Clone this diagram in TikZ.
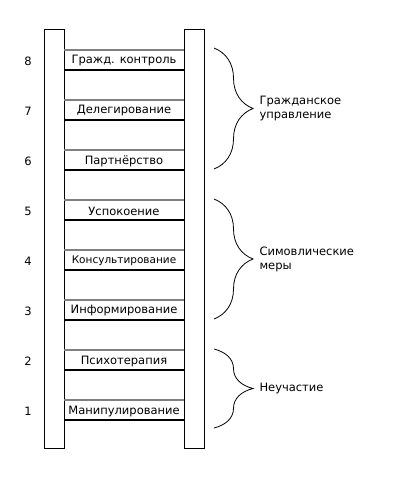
\documentclass[tikz,border=0pt]{standalone}
\usepackage{fontspec}
\setmainfont{DejaVu Sans}
\usetikzlibrary{decorations.pathreplacing}
\begin{document}
\begin{tikzpicture}[x=1pt, y=-1pt, font=\fontsize{11.5}{14}\selectfont,
  rail/.style={draw, line width=1pt},
  rungtop/.style={draw=gray, line width=1.3pt},
  rungbot/.style={draw=black, line width=1.3pt},
  grpbrace/.style={decorate, decoration={brace, amplitude=39pt}, line width=0.8pt}]
  \useasboundingbox (0,0) rectangle (392,481);
  % Ladder rails
  \draw[rail] (44,30) rectangle (64,448);
  \draw[rail] (184,30) rectangle (204,448);
  % Rungs with their names and numbers
  \foreach \k/\txt in {1/Манипулирование, 2/Психотерапия, 3/Информирование,
      4/{\fontsize{10.5}{12}\selectfont Консультирование}, 5/Успокоение,
      6/Партнёрство, 7/Делегирование, 8/Гражд. контроль} {
    \pgfmathsetmacro\yt{400-50*(\k-1)}
    \draw[rungtop] (64,\yt) -- (184,\yt);
    \draw[rungbot] (64,\yt+20) -- (184,\yt+20);
    \node (lbl\k) at (124,\yt+11) {\txt};
    \node (num\k) at (28,\yt+11) {\k};
  }
  % Group braces
  \draw[grpbrace] (214,48) -- (214,169);
  \node[anchor=west, align=left] (grpciv) at (256,109) {Гражданское\\управление};
  \draw[grpbrace] (214,199) -- (214,319);
  \node[anchor=west, align=left] (grpsym) at (256,259) {Симовлические\\меры};
  \draw[grpbrace] (214,349) -- (214,428);
  \node[anchor=west] (grpnon) at (256,389) {Неучастие};
\end{tikzpicture}
\end{document}
